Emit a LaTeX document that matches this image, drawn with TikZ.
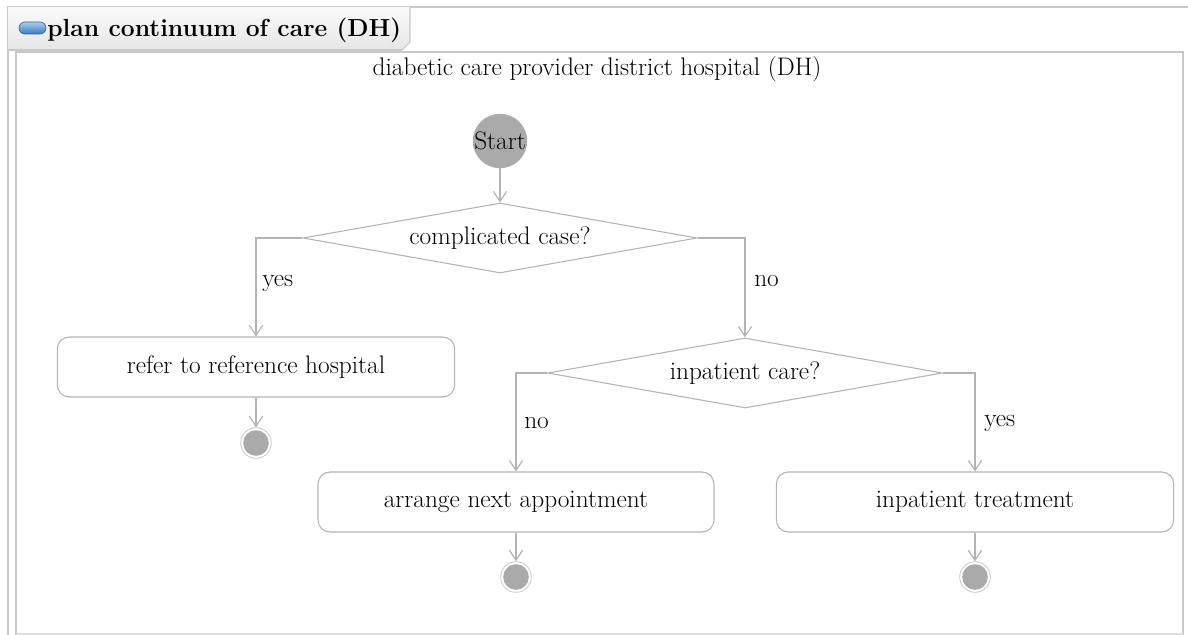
\documentclass[tikz,border=0pt]{standalone}
\usetikzlibrary{shapes.geometric,arrows.meta,calc}
\definecolor{linegray}{HTML}{B4B4B4}
\definecolor{framegray}{HTML}{C8C8C8}
\definecolor{nodegray}{HTML}{AAAAAA}
\definecolor{tabtop}{HTML}{FAFAFA}
\definecolor{tabbot}{HTML}{E6E6E6}
\definecolor{pilltop}{HTML}{A8CFF0}
\definecolor{pillbot}{HTML}{3C78B8}
\begin{document}
\begin{tikzpicture}[x=0.75pt,y=-0.75pt,
  every node/.style={font=\fontsize{19}{22}\selectfont, text=black},
  flow/.style={draw=linegray, line width=0.9pt, -{Straight Barb[length=7.5pt,width=10pt,line width=0.9pt]}},
  startnode/.style={circle, fill=nodegray, minimum size=40.5pt, inner sep=0pt},
  decision/.style={diamond, aspect=5.6, draw=linegray, line width=0.8pt, fill=white, inner sep=0pt},
  action/.style={rectangle, rounded corners=9pt, draw=linegray, line width=0.8pt, fill=white,
                 minimum width=298pt, minimum height=45pt, inner sep=0pt},
  endnode/.style={circle, draw=framegray, line width=0.6pt, fill=white, minimum size=23pt, inner sep=0pt,
                  path picture={\fill[nodegray] (path picture bounding box.center) circle (9.6pt);}},
  guard/.style={anchor=west, inner sep=0pt}
]
\useasboundingbox (0,0) rectangle (1188,635);
\fill[white] (0,0) rectangle (1188,635);

% outer panel and tab
\draw[framegray, line width=1.2pt] (8,635) -- (8,7) -- (1188,7);
\shade[top color=tabtop, bottom color=tabbot] (8,7) -- (410,7) -- (410,42) -- (402,50) -- (8,50) -- cycle;
\draw[framegray, line width=0.8pt] (410,7) -- (410,42) -- (402,50);
\draw[framegray, line width=0.8pt] (8,50) -- (402,50);
\shade[top color=pilltop, bottom color=pillbot, rounded corners=4.5pt] (19,22) rectangle (46,34);
\draw[pillbot!80!black, line width=0.5pt, rounded corners=4.5pt] (19,22) rectangle (46,34);
\node[anchor=west, inner sep=0pt, font=\fontsize{18.5}{21}\selectfont\bfseries] (tabtitle) at (47,30) {plan continuum of care (DH)};

% swimlane container
\draw[framegray, line width=1.2pt] (16,635) -- (16,52) -- (1183,52) -- (1183,635);
\draw[framegray!60, line width=0.8pt] (16,634) -- (1183,634);
\node (lane) at (597,69) {diabetic care provider district hospital (DH)};

% activity nodes
\node[startnode] (start) at (500,141) {Start};
\node[decision, minimum width=295.5pt, minimum height=52.5pt] (d1) at (500,238) {complicated case?};
\node[action] (b1) at (256,367) {refer to reference hospital};
\node[decision, minimum width=296pt, minimum height=52.5pt] (d2) at (745,373) {inpatient care?};
\node[action, minimum width=297pt] (b2) at (516,502) {arrange next appointment};
\node[action] (b3) at (975,502) {inpatient treatment};
\node[endnode] (e1) at (256,443) {};
\node[endnode] (e2) at (516,577) {};
\node[endnode] (e3) at (975,577) {};

% control flows
\draw[flow] (start) -- (d1.north);
\draw[flow] (d1.west) -| (b1.north);
\draw[flow] (d1.east) -| (d2.north);
\draw[flow] (d2.west) -| (b2.north);
\draw[flow] (d2.east) -| (b3.north);
\draw[flow] (b1.south) -- (e1.north);
\draw[flow] (b2.south) -- (e2.north);
\draw[flow] (b3.south) -- (e3.north);

% guards
\node[guard] (g1) at (262,283) {yes};
\node[guard] (g2) at (754,281) {no};
\node[guard] (g3) at (524,423) {no};
\node[guard] (g4) at (984,423) {yes};
\end{tikzpicture}
\end{document}
